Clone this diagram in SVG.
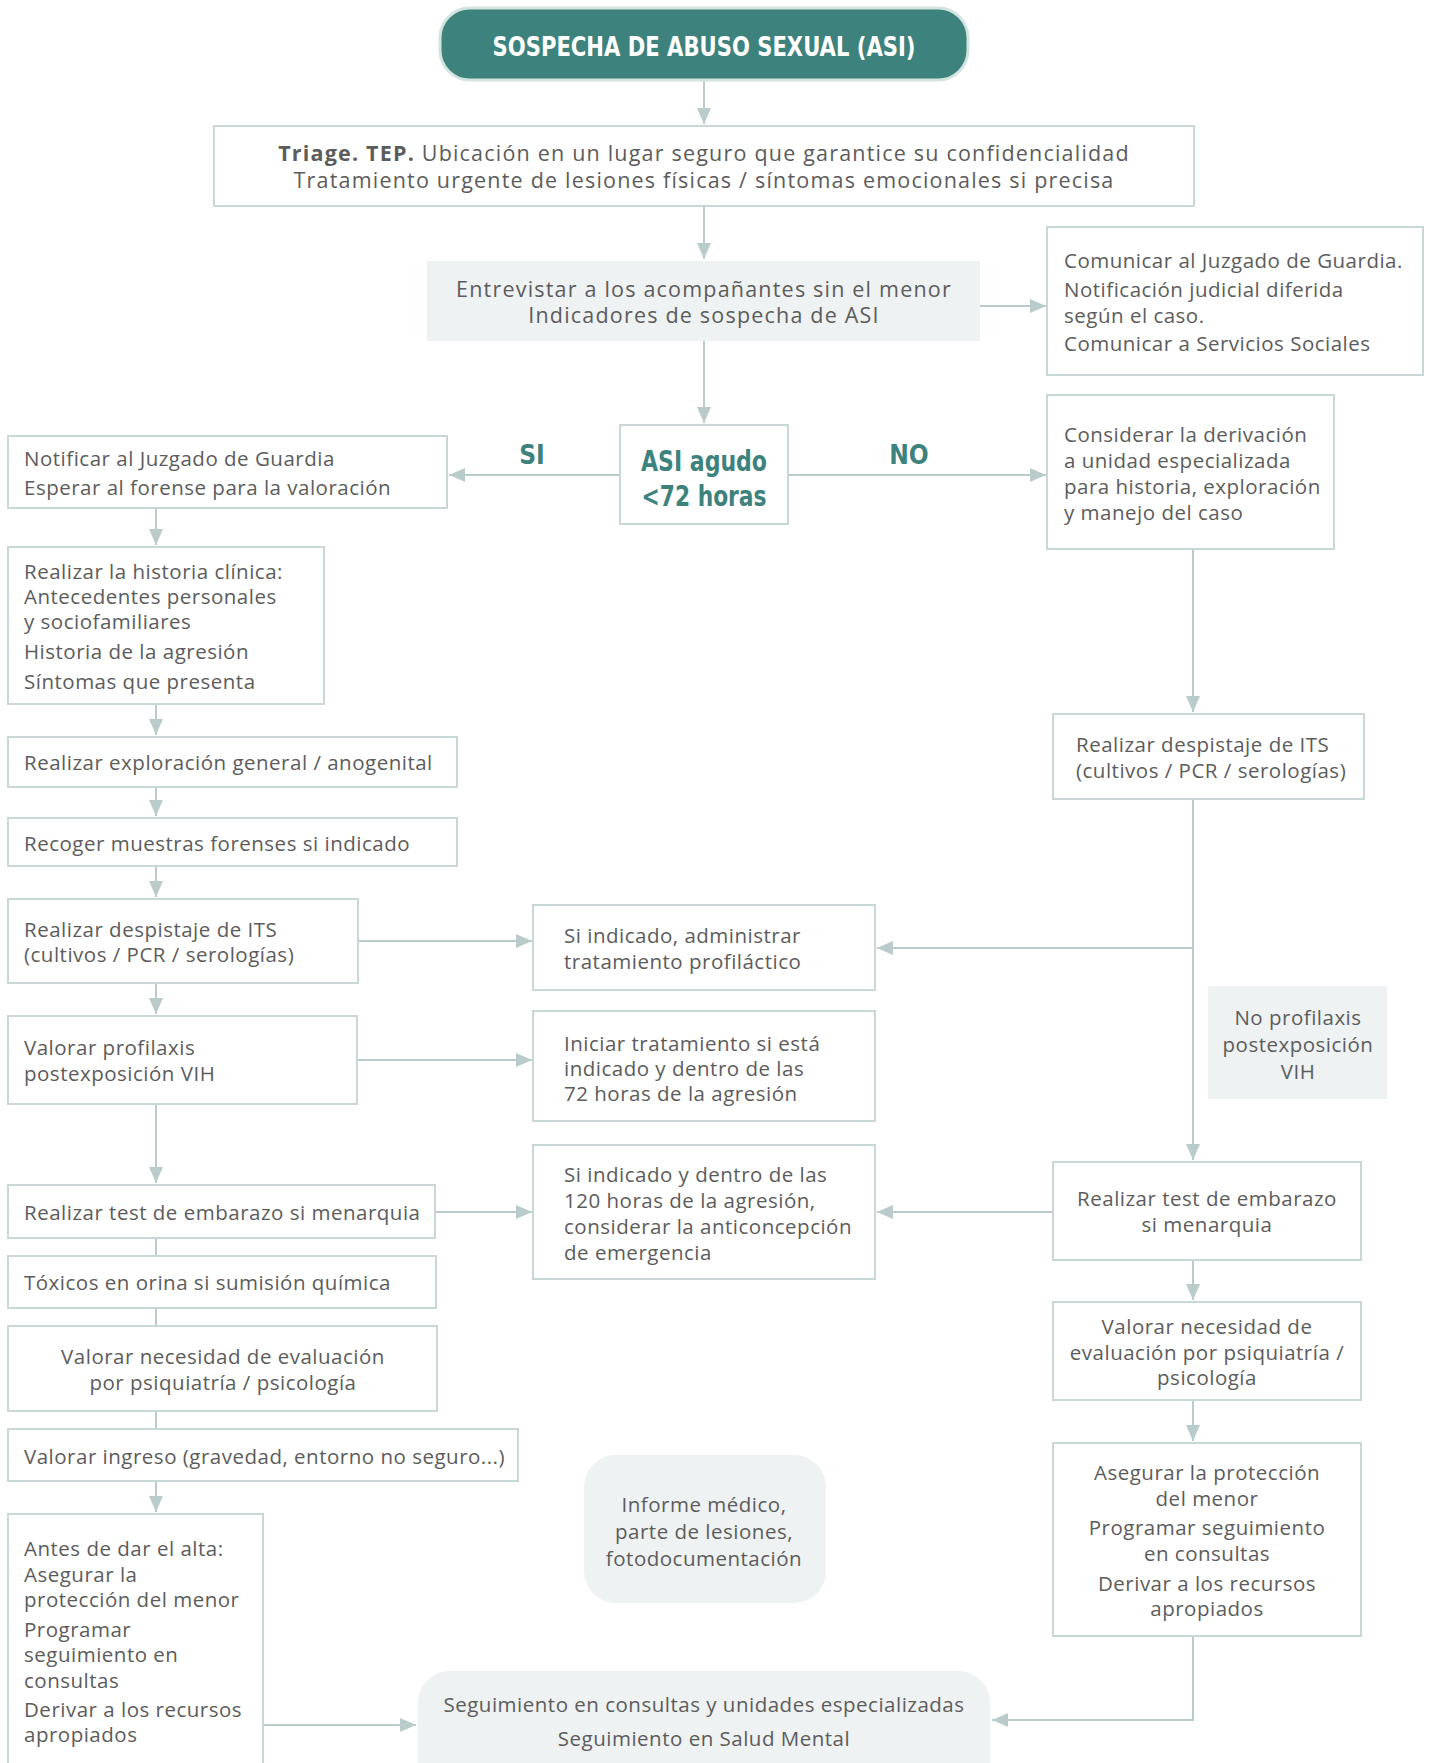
<svg xmlns="http://www.w3.org/2000/svg" width="1434" height="1763" viewBox="0 0 1434 1763">
<defs>
<style>
.box{fill:#ffffff;stroke:#c8d8d6;stroke-width:2}
.gbox{fill:#eef2f3;stroke:none}
.t{font-family:"Open Sans","Noto Sans","DejaVu Sans",sans-serif;font-size:20.5px;letter-spacing:0.5px;fill:#5c5c5c}
.w{font-size:21.5px;letter-spacing:1.2px}
.c{text-anchor:middle}
.b{font-weight:bold}
.cond{font-family:"DejaVu Sans Condensed","DejaVu Sans",sans-serif;font-stretch:condensed;font-weight:bold}
.ln{fill:none;stroke:#b9cccb;stroke-width:2}
.ar{marker-end:url(#ah)}
</style>
<marker id="ah" markerUnits="userSpaceOnUse" markerWidth="16" markerHeight="14" refX="16" refY="7" orient="auto">
<path d="M0,0 L16,7 L0,14 z" fill="#b9cccb"/>
</marker>
</defs>
<rect width="1434" height="1763" fill="#ffffff"/>

<g id="connectors">
<line class="ln ar" x1="704" y1="80" x2="704" y2="124"/>
<line class="ln ar" x1="704" y1="206" x2="704" y2="259"/>
<line class="ln ar" x1="980" y1="306" x2="1046" y2="306"/>
<line class="ln ar" x1="704" y1="341" x2="704" y2="423"/>
<line class="ln ar" x1="620" y1="475" x2="449" y2="475"/>
<line class="ln ar" x1="788" y1="475" x2="1046" y2="475"/>
<line class="ln ar" x1="156" y1="508" x2="156" y2="545"/>
<line class="ln ar" x1="156" y1="704" x2="156" y2="735"/>
<line class="ln ar" x1="156" y1="787" x2="156" y2="816"/>
<line class="ln ar" x1="156" y1="866" x2="156" y2="897"/>
<line class="ln ar" x1="358" y1="941" x2="532" y2="941"/>
<line class="ln ar" x1="156" y1="983" x2="156" y2="1014"/>
<line class="ln ar" x1="357" y1="1060" x2="532" y2="1060"/>
<line class="ln ar" x1="156" y1="1104" x2="156" y2="1183"/>
<line class="ln ar" x1="435" y1="1212" x2="532" y2="1212"/>
<line class="ln" x1="156" y1="1238" x2="156" y2="1256"/>
<line class="ln" x1="156" y1="1308" x2="156" y2="1326"/>
<line class="ln" x1="156" y1="1411" x2="156" y2="1429"/>
<line class="ln ar" x1="156" y1="1481" x2="156" y2="1512"/>
<line class="ln ar" x1="263" y1="1725" x2="416" y2="1725"/>
<line class="ln ar" x1="1193" y1="549" x2="1193" y2="712"/>
<line class="ln ar" x1="1193" y1="799" x2="1193" y2="1160"/>
<polyline class="ln ar" points="1193,948 877,948"/>
<line class="ln ar" x1="1053" y1="1212" x2="877" y2="1212"/>
<line class="ln ar" x1="1193" y1="1260" x2="1193" y2="1300"/>
<line class="ln ar" x1="1193" y1="1400" x2="1193" y2="1441"/>
<polyline class="ln ar" points="1193,1636 1193,1720 992,1720"/>
</g>

<g id="n-sospecha">
<rect x="440" y="8" width="528" height="72" rx="30" fill="#3d827c" stroke="#d3e3e0" stroke-width="3"/>
<text class="cond c" x="704" y="56" font-size="26" fill="#ffffff" textLength="423" lengthAdjust="spacingAndGlyphs">SOSPECHA DE ABUSO SEXUAL (ASI)</text>
</g>

<g id="n-triage">
<rect class="box" x="214" y="126" width="980" height="80"/>
<text class="t w c" x="704" y="161"><tspan class="b">Triage. TEP.</tspan> Ubicación en un lugar seguro que garantice su confidencialidad</text>
<text class="t w c" x="704" y="188">Tratamiento urgente de lesiones físicas / síntomas emocionales si precisa</text>
</g>

<g id="n-entrevistar">
<rect class="gbox" x="427" y="261" width="553" height="80"/>
<text class="t w c" x="704" y="297">Entrevistar a los acompañantes sin el menor</text>
<text class="t w c" x="704" y="323">Indicadores de sospecha de ASI</text>
</g>

<g id="n-comunicar">
<rect class="box" x="1047" y="227" width="376" height="148"/>
<text class="t" x="1064" y="268">Comunicar al Juzgado de Guardia.</text>
<text class="t" x="1064" y="297">Notificación judicial diferida</text>
<text class="t" x="1064" y="323">según el caso.</text>
<text class="t" x="1064" y="351">Comunicar a Servicios Sociales</text>
</g>

<g id="n-asi">
<rect class="box" x="620" y="425" width="168" height="99"/>
<text class="cond c" x="704" y="471" font-size="29" fill="#3d827c" textLength="126" lengthAdjust="spacingAndGlyphs">ASI agudo</text>
<text class="cond c" x="704" y="506" font-size="29" fill="#3d827c" textLength="125" lengthAdjust="spacingAndGlyphs">&lt;72 horas</text>
</g>

<g id="l-si"><text class="cond c" x="532" y="464" font-size="26" fill="#3d827c">SI</text></g>
<g id="l-no"><text class="cond c" x="909" y="464" font-size="26" fill="#3d827c">NO</text></g>

<g id="n-notificar">
<rect class="box" x="8" y="436" width="439" height="72"/>
<text class="t" x="24" y="466">Notificar al Juzgado de Guardia</text>
<text class="t" x="24" y="495">Esperar al forense para la valoración</text>
</g>

<g id="n-considerar">
<rect class="box" x="1047" y="395" width="287" height="154"/>
<text class="t" x="1064" y="442">Considerar la derivación</text>
<text class="t" x="1064" y="468">a unidad especializada</text>
<text class="t" x="1064" y="494">para historia, exploración</text>
<text class="t" x="1064" y="520">y manejo del caso</text>
</g>

<g id="n-historia">
<rect class="box" x="8" y="547" width="316" height="157"/>
<text class="t" x="24" y="579">Realizar la historia clínica:</text>
<text class="t" x="24" y="604">Antecedentes personales</text>
<text class="t" x="24" y="629">y sociofamiliares</text>
<text class="t" x="24" y="659">Historia de la agresión</text>
<text class="t" x="24" y="689">Síntomas que presenta</text>
</g>

<g id="n-exploracion">
<rect class="box" x="8" y="737" width="449" height="50"/>
<text class="t" x="24" y="770">Realizar exploración general / anogenital</text>
</g>

<g id="n-recoger">
<rect class="box" x="8" y="818" width="449" height="48"/>
<text class="t" x="24" y="851">Recoger muestras forenses si indicado</text>
</g>

<g id="n-its-left">
<rect class="box" x="8" y="899" width="350" height="84"/>
<text class="t" x="24" y="937">Realizar despistaje de ITS</text>
<text class="t" x="24" y="962">(cultivos / PCR / serologías)</text>
</g>

<g id="n-profilactico">
<rect class="box" x="533" y="905" width="342" height="85"/>
<text class="t" x="564" y="943">Si indicado, administrar</text>
<text class="t" x="564" y="969">tratamiento profiláctico</text>
</g>

<g id="n-vih">
<rect class="box" x="8" y="1016" width="349" height="88"/>
<text class="t" x="24" y="1055">Valorar profilaxis</text>
<text class="t" x="24" y="1081">postexposición VIH</text>
</g>

<g id="n-iniciar">
<rect class="box" x="533" y="1011" width="342" height="110"/>
<text class="t" x="564" y="1051">Iniciar tratamiento si está</text>
<text class="t" x="564" y="1076">indicado y dentro de las</text>
<text class="t" x="564" y="1101">72 horas de la agresión</text>
</g>

<g id="n-test-left">
<rect class="box" x="8" y="1185" width="427" height="53"/>
<text class="t" x="24" y="1220">Realizar test de embarazo si menarquia</text>
</g>

<g id="n-anticoncepcion">
<rect class="box" x="533" y="1145" width="342" height="134"/>
<text class="t" x="564" y="1182">Si indicado y dentro de las</text>
<text class="t" x="564" y="1208">120 horas de la agresión,</text>
<text class="t" x="564" y="1234">considerar la anticoncepción</text>
<text class="t" x="564" y="1260">de emergencia</text>
</g>

<g id="n-toxicos">
<rect class="box" x="8" y="1256" width="428" height="52"/>
<text class="t" x="24" y="1290">Tóxicos en orina si sumisión química</text>
</g>

<g id="n-psiq-left">
<rect class="box" x="8" y="1326" width="429" height="85"/>
<text class="t c" x="223" y="1364">Valorar necesidad de evaluación</text>
<text class="t c" x="223" y="1390">por psiquiatría / psicología</text>
</g>

<g id="n-ingreso">
<rect class="box" x="8" y="1429" width="510" height="52"/>
<text class="t" x="24" y="1464">Valorar ingreso (gravedad, entorno no seguro...)</text>
</g>

<g id="n-alta">
<rect class="box" x="8" y="1514" width="255" height="270"/>
<text class="t" x="24" y="1556">Antes de dar el alta:</text>
<text class="t" x="24" y="1582">Asegurar la</text>
<text class="t" x="24" y="1607">protección del menor</text>
<text class="t" x="24" y="1637">Programar</text>
<text class="t" x="24" y="1662">seguimiento en</text>
<text class="t" x="24" y="1688">consultas</text>
<text class="t" x="24" y="1717">Derivar a los recursos</text>
<text class="t" x="24" y="1742">apropiados</text>
</g>

<g id="n-informe">
<rect class="gbox" x="584" y="1455" width="242" height="148" rx="32"/>
<text class="t c" x="704" y="1512">Informe médico,</text>
<text class="t c" x="704" y="1539">parte de lesiones,</text>
<text class="t c" x="704" y="1566">fotodocumentación</text>
</g>

<g id="n-seguimiento">
<rect class="gbox" x="418" y="1671" width="572" height="130" rx="32"/>
<text class="t c" x="704" y="1712">Seguimiento en consultas y unidades especializadas</text>
<text class="t c" x="704" y="1746">Seguimiento en Salud Mental</text>
</g>

<g id="n-its-right">
<rect class="box" x="1053" y="714" width="311" height="85"/>
<text class="t" x="1076" y="752">Realizar despistaje de ITS</text>
<text class="t" x="1076" y="778">(cultivos / PCR / serologías)</text>
</g>

<g id="n-noprof">
<rect class="gbox" x="1208" y="986" width="179" height="113"/>
<text class="t c" x="1298" y="1025">No profilaxis</text>
<text class="t c" x="1298" y="1052">postexposición</text>
<text class="t c" x="1298" y="1079">VIH</text>
</g>

<g id="n-test-right">
<rect class="box" x="1053" y="1162" width="308" height="98"/>
<text class="t c" x="1207" y="1206">Realizar test de embarazo</text>
<text class="t c" x="1207" y="1232">si menarquia</text>
</g>

<g id="n-psiq-right">
<rect class="box" x="1053" y="1302" width="308" height="98"/>
<text class="t c" x="1207" y="1334">Valorar necesidad de</text>
<text class="t c" x="1207" y="1360">evaluación por psiquiatría /</text>
<text class="t c" x="1207" y="1385">psicología</text>
</g>

<g id="n-asegurar">
<rect class="box" x="1053" y="1443" width="308" height="193"/>
<text class="t c" x="1207" y="1480">Asegurar la protección</text>
<text class="t c" x="1207" y="1506">del menor</text>
<text class="t c" x="1207" y="1535">Programar seguimiento</text>
<text class="t c" x="1207" y="1561">en consultas</text>
<text class="t c" x="1207" y="1591">Derivar a los recursos</text>
<text class="t c" x="1207" y="1616">apropiados</text>
</g>
</svg>
